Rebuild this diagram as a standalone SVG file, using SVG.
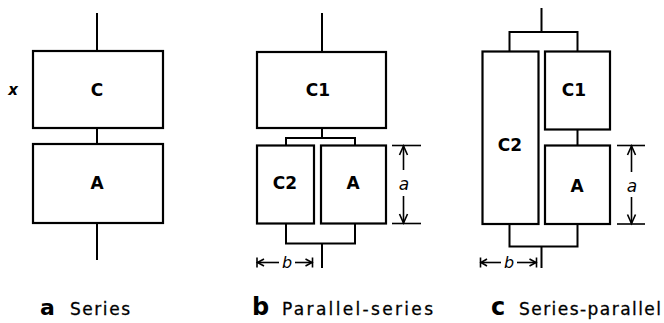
<svg xmlns="http://www.w3.org/2000/svg" width="664" height="323" viewBox="0 0 664 323">
<style>
  .box { fill: #fff; stroke: #000; stroke-width: 2.2; }
  .wire { fill: none; stroke: #000; stroke-width: 2; }
  .dim { fill: none; stroke: #000; stroke-width: 1.6; }
  .lbl { font-family: "DejaVu Sans", "Liberation Sans", sans-serif; font-weight: bold; font-size: 17px; text-anchor: middle; fill: #000; }
  .ital { font-family: "DejaVu Sans", "Liberation Sans", sans-serif; font-style: italic; font-size: 17px; text-anchor: middle; fill: #000; }
  .cap { font-family: "DejaVu Sans", "Liberation Sans", sans-serif; font-size: 17px; fill: #000; stroke: #000; stroke-width: 0.3; }
  .letter { font-family: "DejaVu Sans", "Liberation Sans", sans-serif; font-weight: bold; font-size: 24px; fill: #000; }
</style>
<rect width="664" height="323" fill="#fff"/>

<!-- Panel a -->
<g id="a-C"><rect class="box" x="33" y="51" width="130" height="77"/><text class="lbl" x="97" y="96">C</text></g>
<g id="a-A"><rect class="box" x="33" y="144" width="130" height="79"/><text class="lbl" x="97" y="189">A</text></g>
<text class="ital" x="13" y="95" style="font-size:15px;font-weight:bold">x</text>

<!-- Panel b -->
<g id="b-C1"><rect class="box" x="257" y="52" width="129" height="76"/><text class="lbl" x="318" y="96">C1</text></g>
<g id="b-C2"><rect class="box" x="257" y="145.5" width="57" height="78"/><text class="lbl" x="285" y="189">C2</text></g>
<g id="b-A"><rect class="box" x="321" y="145.5" width="65" height="78"/><text class="lbl" x="353" y="189">A</text></g>

<!-- Panel c -->
<g id="c-C2"><rect class="box" x="482.5" y="51.5" width="56" height="172.5"/><text class="lbl" x="510" y="151">C2</text></g>
<g id="c-C1"><rect class="box" x="545" y="51.5" width="65" height="78"/><text class="lbl" x="574" y="96">C1</text></g>
<g id="c-A"><rect class="box" x="545" y="145.5" width="65" height="78.5"/><text class="lbl" x="577" y="192">A</text></g>

<g id="connectors">
  <!-- a -->
  <line class="wire" x1="97" y1="13" x2="97" y2="51"/>
  <line class="wire" x1="97" y1="128" x2="97" y2="144"/>
  <line class="wire" x1="97" y1="223" x2="97" y2="260"/>
  <!-- b -->
  <line class="wire" x1="322" y1="13" x2="322" y2="52"/>
  <line class="wire" x1="322" y1="128" x2="322" y2="138"/>
  <polyline class="wire" points="286,145.5 286,138 355,138 355,145.5"/>
  <polyline class="wire" points="286,223.5 286,243.5 355,243.5 355,223.5"/>
  <line class="wire" x1="322" y1="243.5" x2="322" y2="268"/>
  <!-- c -->
  <line class="wire" x1="541.5" y1="8" x2="541.5" y2="32"/>
  <polyline class="wire" points="509.5,51.5 509.5,32 577.5,32 577.5,51.5"/>
  <line class="wire" x1="577.5" y1="129.5" x2="577.5" y2="145.5"/>
  <polyline class="wire" points="509.5,224 509.5,246.5 577.5,246.5 577.5,224"/>
  <line class="wire" x1="541.5" y1="246.5" x2="541.5" y2="268"/>
</g>

<g id="dimensions">
  <!-- b: a -->
  <line class="dim" x1="392" y1="145.5" x2="421" y2="145.5"/>
  <line class="dim" x1="392" y1="223.5" x2="421" y2="223.5"/>
  <line class="dim" x1="403.5" y1="146" x2="403.5" y2="170"/>
  <line class="dim" x1="403.5" y1="196" x2="403.5" y2="223"/>
  <polyline class="dim" points="399.5,155 403.5,146 407.5,155"/>
  <polyline class="dim" points="399.5,214 403.5,223 407.5,214"/>
  <text class="ital" x="404" y="190">a</text>
  <!-- b: b -->
  <line class="dim" x1="257" y1="257.5" x2="257" y2="267.5"/>
  <line class="dim" x1="312.5" y1="257.5" x2="312.5" y2="267.5"/>
  <line class="dim" x1="257" y1="262.5" x2="279" y2="262.5"/>
  <line class="dim" x1="295" y1="262.5" x2="312" y2="262.5"/>
  <polyline class="dim" points="264,259 257.5,262.5 264,266"/>
  <polyline class="dim" points="305.5,259 312,262.5 305.5,266"/>
  <text class="ital" x="287" y="268" style="font-size:16px">b</text>
  <!-- c: a -->
  <line class="dim" x1="617" y1="145.5" x2="645" y2="145.5"/>
  <line class="dim" x1="617" y1="224" x2="645" y2="224"/>
  <line class="dim" x1="631.5" y1="146" x2="631.5" y2="172"/>
  <line class="dim" x1="631.5" y1="197" x2="631.5" y2="223.5"/>
  <polyline class="dim" points="627.5,155 631.5,146 635.5,155"/>
  <polyline class="dim" points="627.5,214.5 631.5,223.5 635.5,214.5"/>
  <text class="ital" x="632" y="192">a</text>
  <!-- c: b -->
  <line class="dim" x1="480.5" y1="257.5" x2="480.5" y2="267.5"/>
  <line class="dim" x1="536.5" y1="257.5" x2="536.5" y2="267.5"/>
  <line class="dim" x1="480.5" y1="262.5" x2="501" y2="262.5"/>
  <line class="dim" x1="517" y1="262.5" x2="536" y2="262.5"/>
  <polyline class="dim" points="487,259 481,262.5 487,266"/>
  <polyline class="dim" points="529.5,259 536,262.5 529.5,266"/>
  <text class="ital" x="509" y="268" style="font-size:16px">b</text>
</g>

<g id="captions">
  <text class="letter" x="40" y="315" style="font-size:22px">a</text>
  <text class="cap" x="70" y="315" textLength="60" lengthAdjust="spacing">Series</text>
  <text class="letter" x="252" y="315">b</text>
  <text class="cap" x="282" y="315" textLength="151" lengthAdjust="spacing">Parallel-series</text>
  <text class="letter" x="491" y="315">c</text>
  <text class="cap" x="519" y="315" textLength="142" lengthAdjust="spacing">Series-parallel</text>
</g>
</svg>
